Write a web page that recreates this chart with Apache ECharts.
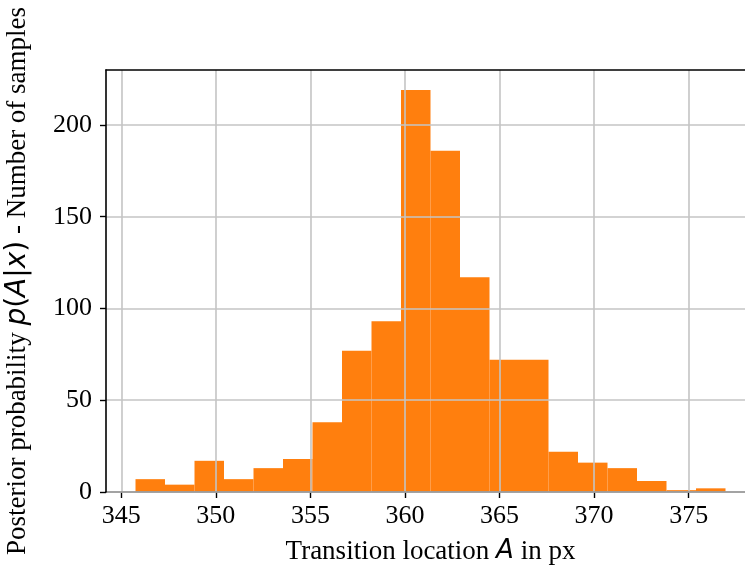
<!DOCTYPE html>
<html>
<head>
<meta charset="utf-8">
<script src="https://cdn.jsdelivr.net/npm/echarts@6/dist/echarts.min.js"></script>
<style>
  html, body { margin: 0; padding: 0; background: #fff; }
  #main { width: 745px; height: 566px; }
</style>
</head>
<body>
<div id="main"></div>
<script>
// histogram bin edges (px) and number of samples per bin
var binEdges = [345.75, 347.31, 348.87, 350.43, 351.99, 353.55, 355.11, 356.67, 358.23, 359.79,
  361.35, 362.91, 364.47, 366.03, 367.59, 369.15, 370.71, 372.27, 373.83, 375.39, 376.95];
var counts = [7, 4, 17, 7, 13, 18, 38, 77, 93, 219, 186, 117, 72, 72, 22, 16, 13, 6, 1, 2];
var xTicks = [345, 350, 355, 360, 365, 370, 375];
var yTicks = [0, 50, 100, 150, 200];

var barColor = '#ff7f0e';
var serif = 'Liberation Serif';

var bins = counts.map(function (c, i) {
  return [binEdges[i], binEdges[i + 1], c];
});

var chart = echarts.init(document.getElementById('main'));

var option = {
  animation: false,
  grid: { left: 106, right: -10, top: 70, bottom: 74, outerBoundsMode: 'none', containLabel: false },
  xAxis: [
    {
      type: 'value',
      min: 344.19,
      max: 378.51,
      z: 3,
      axisLine: { show: true, onZero: false, lineStyle: { color: '#000', width: 1.6 } },
      axisTick: { show: true, customValues: xTicks, length: 6, lineStyle: { color: '#000', width: 1.4 } },
      axisLabel: { customValues: xTicks, margin: 11, color: '#000', fontFamily: serif, fontSize: 26 },
      splitLine: { show: true, lineStyle: { color: '#c4c4c4', width: 1.6 } },
      name: 'Transition location {i|A} in px',
      nameLocation: 'middle',
      nameGap: 46,
      nameTextStyle: {
        color: '#000', fontFamily: serif, fontSize: 27,
        rich: { i: { fontFamily: 'DejaVu Sans', fontStyle: 'italic', fontSize: 26, color: '#000' } }
      }
    },
    {
      type: 'value',
      position: 'top',
      min: 344.19,
      max: 378.51,
      z: 5,
      axisLine: { show: true, onZero: false, lineStyle: { color: '#000', width: 1.6 } },
      axisTick: { show: false },
      axisLabel: { show: false },
      splitLine: { show: false }
    }
  ],
  yAxis: {
    type: 'value',
    min: 0,
    max: 229.95,
    z: 4,
    axisLine: { show: true, lineStyle: { color: '#000', width: 1.6 } },
    axisTick: { show: true, customValues: yTicks, length: 6, lineStyle: { color: '#000', width: 1.4 } },
    axisLabel: { customValues: yTicks, margin: 14, color: '#000', fontFamily: serif, fontSize: 26 },
    splitLine: { show: true, lineStyle: { color: '#c4c4c4', width: 1.6 } },
    name: 'Posterior probability {i|p}{r|(}{i|A}{r||}{i|x}{r|)} - Number of samples',
    nameLocation: 'middle',
    nameRotate: 90,
    nameGap: 74,
    nameTextStyle: {
      color: '#000', fontFamily: serif, fontSize: 27,
      rich: {
        i: { fontFamily: 'DejaVu Sans', fontStyle: 'italic', fontSize: 28, color: '#000' },
        r: { fontFamily: 'DejaVu Sans', fontSize: 28, color: '#000' }
      }
    }
  },
  series: [
    {
      type: 'custom',
      xAxisIndex: 0,
      z: 2,
      data: bins,
      encode: { x: [0, 1], y: 2 },
      renderItem: function (params, api) {
        var p0 = api.coord([api.value(0), api.value(2)]);
        var p1 = api.coord([api.value(1), 0]);
        return {
          type: 'rect',
          shape: { x: p0[0], y: p0[1], width: p1[0] - p0[0], height: p1[1] - p0[1] },
          style: { fill: barColor }
        };
      }
    }
  ]
};

chart.setOption(option);
</script>
</body>
</html>
